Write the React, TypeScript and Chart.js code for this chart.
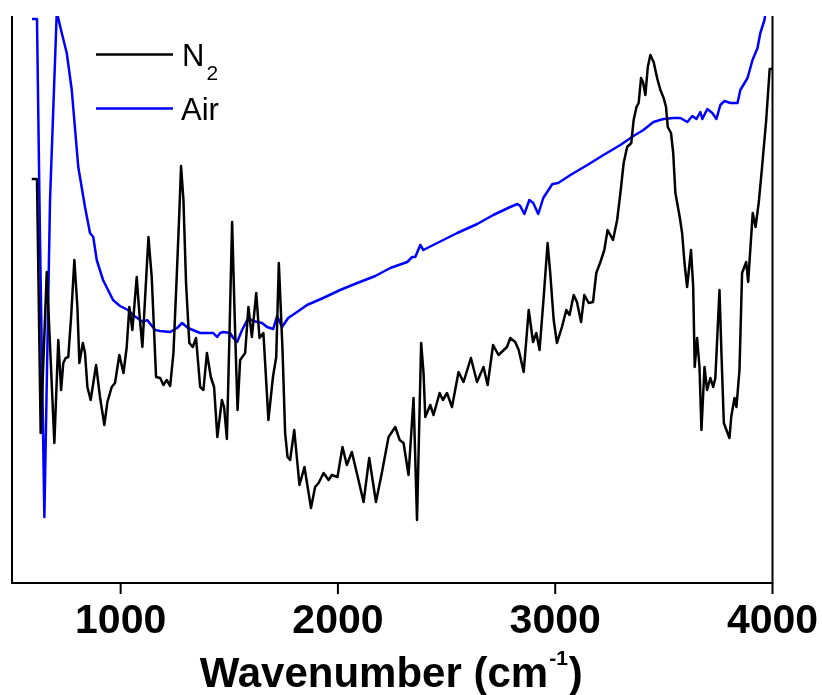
import React, { useEffect, useRef } from "react";
import { Chart, registerables } from "chart.js";

Chart.register(...registerables);

// N2 spectrum: wavenumber (cm-1) and transmittance (a.u.)
const waveN2 = [
  591, 615, 632, 660, 678, 695, 713, 726, 736, 747,
  759, 772, 787, 801, 810, 826, 836, 847, 862, 887,
  905, 925, 939, 959, 974, 994, 1013, 1028, 1040, 1054,
  1074, 1086, 1100, 1112, 1128, 1143, 1163, 1182, 1197, 1212,
  1228, 1243, 1258, 1270, 1278, 1289, 1301, 1316, 1332, 1347,
  1366, 1381, 1397, 1415, 1430, 1445, 1466, 1476, 1489, 1501,
  1513, 1527, 1538, 1550, 1573, 1588, 1604, 1624, 1639, 1657,
  1673, 1680, 1701, 1716, 1728, 1745, 1757, 1768, 1780, 1799,
  1823, 1846, 1876, 1895, 1911, 1934, 1957, 1972, 1998, 2021,
  2041, 2064, 2087, 2118, 2144, 2175, 2202, 2233, 2264, 2284,
  2302, 2325, 2348, 2364, 2383, 2394, 2402, 2425, 2440, 2468,
  2483, 2502, 2525, 2555, 2578, 2612, 2640, 2670, 2689, 2714,
  2739, 2778, 2793, 2816, 2832, 2855, 2878, 2898, 2913, 2928,
  2947, 2965, 2977, 2993, 3008, 3031, 3051, 3066, 3085, 3100,
  3119, 3134, 3154, 3174, 3189, 3208, 3226, 3241, 3266, 3285,
  3300, 3315, 3331, 3350, 3361, 3374, 3384, 3395, 3404, 3415,
  3426, 3438, 3453, 3469, 3484, 3499, 3510, 3518, 3533, 3543,
  3553, 3573, 3584, 3595, 3607, 3625, 3635, 3642, 3653, 3664,
  3673, 3687, 3699, 3714, 3727, 3737, 3756, 3765, 3776, 3788,
  3802, 3810, 3825, 3834, 3848, 3860, 3879, 3888, 3909, 3922,
  3937, 3952, 3971, 3987, 4000,
];
const valN2 = [
  403, 403, 149, 310, 222, 139, 242, 192, 219, 224,
  225, 265, 322, 275, 219, 239, 229, 195, 182, 217,
  185, 157, 180, 195, 199, 227, 209, 235, 275, 252,
  305, 269, 235, 282, 345, 305, 205, 204, 197, 202,
  196, 229, 305, 369, 416, 382, 299, 239, 235, 244,
  195, 192, 229, 205, 195, 145, 182, 175, 143, 249,
  360, 249, 172, 222, 229, 275, 245, 289, 244, 249,
  189, 162, 205, 225, 319, 232, 149, 125, 122, 152,
  97, 115, 74, 95, 99, 109, 102, 107, 105, 135,
  117, 130, 109, 80, 124, 80, 109, 145, 155, 142,
  139, 107, 184, 62, 239, 209, 165, 177, 167, 189,
  182, 189, 175, 210, 200, 224, 200, 215, 197, 237,
  227, 235, 244, 240, 232, 210, 272, 240, 249, 232,
  285, 339, 309, 262, 239, 255, 272, 267, 287, 280,
  260, 287, 279, 280, 309, 320, 332, 352, 342, 362,
  389, 419, 435, 439, 462, 475, 479, 504, 500, 487,
  515, 527, 520, 504, 492, 484, 475, 455, 449, 429,
  389, 365, 349, 319, 295, 332, 295, 215, 244, 215,
  152, 215, 192, 204, 195, 204, 292, 229, 159, 152,
  144, 165, 184, 175, 212, 309, 320, 300, 369, 355,
  380, 415, 462, 513, 513,
];

// Air spectrum
const waveAir = [
  592, 615, 629, 649, 675, 706, 729, 752, 775, 805,
  836, 859, 874, 890, 919, 965, 997, 1034, 1057, 1103,
  1122, 1159, 1182, 1228, 1260, 1283, 1310, 1366, 1426, 1444,
  1458, 1472, 1504, 1518, 1536, 1559, 1587, 1610, 1651, 1674,
  1702, 1720, 1743, 1771, 1812, 1858, 1932, 2010, 2089, 2172,
  2241, 2319, 2342, 2356, 2379, 2393, 2457, 2549, 2641, 2715,
  2793, 2826, 2839, 2858, 2881, 2899, 2922, 2945, 2987, 3014,
  3070, 3148, 3222, 3300, 3360, 3406, 3452, 3498, 3544, 3576,
  3608, 3631, 3650, 3668, 3677, 3700, 3723, 3742, 3760, 3779,
  3806, 3839, 3852, 3885, 3908, 3931, 3944, 3963, 3981,
];
const valAir = [
  563, 563, 342, 65, 382, 570, 549, 529, 492, 415,
  375, 349, 345, 322, 302, 282, 276, 272, 267, 260,
  262, 252, 251, 250, 254, 259, 254, 249, 249, 245,
  249, 250, 249, 244, 240, 252, 264, 261, 259, 255,
  253, 266, 255, 264, 270, 277, 284, 292, 299, 306,
  314, 320, 325, 325, 337, 332, 339, 349, 358, 367,
  375, 378, 376, 368, 382, 379, 368, 384, 398, 399,
  407, 417, 427, 437, 446, 452, 460, 463, 464, 464,
  460, 466, 463, 470, 463, 473, 469, 463, 477, 481,
  479, 479, 492, 504, 522, 534, 549, 562, 590,
];

const xTicks = [1000, 2000, 3000, 4000];
const xTitleMain = "Wavenumber (cm";
const xTitleSup = "-1";
const xTitleEnd = ")";
const legendN2 = "N";
const legendN2Sub = "2";
const legendAir = "Air";

const FONT = '"Liberation Sans", Arial, Helvetica, sans-serif';

const framePlugin = {
  id: "frameAndLabels",
  afterDraw(chart: any) {
    const { ctx, chartArea: a, scales } = chart;
    const xs = scales.x;
    ctx.save();
    ctx.strokeStyle = "#000";
    ctx.lineWidth = 2;
    ctx.lineCap = "butt";
    ctx.beginPath();
    ctx.moveTo(a.left, a.top);
    ctx.lineTo(a.left, a.bottom);
    ctx.lineTo(a.right, a.bottom);
    ctx.lineTo(a.right, a.top);
    ctx.stroke();

    // tick marks
    ctx.beginPath();
    xTicks.forEach((t) => {
      const px = xs.getPixelForValue(t);
      ctx.moveTo(px, a.bottom);
      ctx.lineTo(px, a.bottom + 11);
    });
    ctx.stroke();

    // tick labels
    ctx.fillStyle = "#000";
    ctx.textAlign = "center";
    ctx.textBaseline = "alphabetic";
    ctx.font = `bold 41px ${FONT}`;
    xTicks.forEach((t) => {
      ctx.fillText(String(t), xs.getPixelForValue(t), a.bottom + 50);
    });

    // axis title with superscript
    ctx.textAlign = "left";
    const mainFont = `bold 42px ${FONT}`;
    const supFont = `bold 21px ${FONT}`;
    ctx.font = mainFont;
    const w1 = ctx.measureText(xTitleMain).width;
    const w3 = ctx.measureText(xTitleEnd).width;
    ctx.font = supFont;
    const w2 = ctx.measureText(xTitleSup).width;
    const cx = (a.left + a.right) / 2;
    const start = cx - (w1 + w2 + w3) / 2 - 2;
    const base = a.bottom + 104;
    ctx.font = mainFont;
    ctx.fillText(xTitleMain, start, base);
    ctx.font = supFont;
    ctx.fillText(xTitleSup, start + w1 + 1, base - 22);
    ctx.font = mainFont;
    ctx.fillText(xTitleEnd, start + w1 + w2 + 2, base);

    // legend
    const lx0 = 96;
    const lx1 = 173;
    const items = [
      { color: "#000000", y: 54.5 },
      { color: "#0000ff", y: 108.5 },
    ];
    items.forEach((it) => {
      ctx.strokeStyle = it.color;
      ctx.lineWidth = 2.5;
      ctx.beginPath();
      ctx.moveTo(lx0, it.y);
      ctx.lineTo(lx1, it.y);
      ctx.stroke();
    });
    ctx.fillStyle = "#000";
    ctx.font = `31px ${FONT}`;
    ctx.fillText(legendN2, 182, 66);
    const nW = ctx.measureText(legendN2).width;
    ctx.font = `21px ${FONT}`;
    ctx.fillText(legendN2Sub, 182 + nW + 2, 80);
    ctx.font = `31px ${FONT}`;
    ctx.fillText(legendAir, 181, 120);
    ctx.restore();
  },
};

export default function App() {
  const ref = useRef<HTMLCanvasElement | null>(null);
  useEffect(() => {
    if (!ref.current) return;
    const n2 = waveN2.map((w, i) => ({ x: w, y: valN2[i] }));
    const air = waveAir.map((w, i) => ({ x: w, y: valAir[i] }));
    const chart = new Chart(ref.current, {
      type: "line",
      data: {
        datasets: [
          {
            label: "N2",
            data: n2,
            borderColor: "#000000",
            borderWidth: 2.5,
            pointRadius: 0,
            tension: 0,
            fill: false,
            borderJoinStyle: "round",
          },
          {
            label: "Air",
            data: air,
            borderColor: "#0000ff",
            borderWidth: 2.5,
            pointRadius: 0,
            tension: 0,
            fill: false,
            borderJoinStyle: "round",
          },
        ],
      },
      options: {
        animation: false,
        responsive: false,
        devicePixelRatio: 1,
        events: [],
        layout: { padding: { left: 12, right: 49.5, top: 16, bottom: 112 } },
        scales: {
          x: { type: "linear", min: 500, max: 4000, display: false },
          y: { type: "linear", min: -1, max: 566, display: false },
        },
        plugins: {
          legend: { display: false },
          tooltip: { enabled: false },
        },
      },
      plugins: [framePlugin],
    } as any);
    return () => chart.destroy();
  }, []);
  return (
    <div style={{ position: "absolute", left: 0, top: 0, width: 822, height: 695, background: "#fff" }}>
      <canvas ref={ref} width={822} height={695} style={{ display: "block" }} />
    </div>
  );
}
